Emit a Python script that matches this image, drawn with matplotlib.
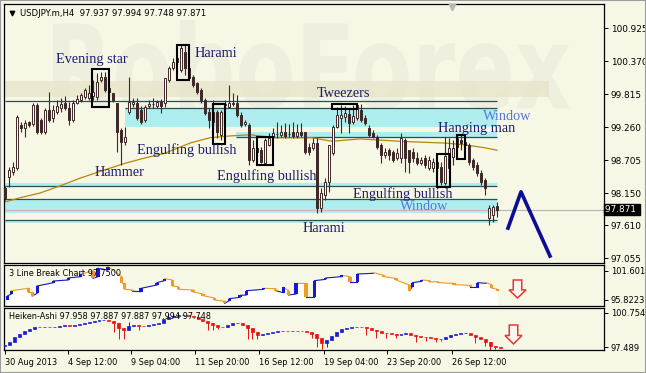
import numpy as np
import matplotlib
matplotlib.use('Agg')
import matplotlib.pyplot as plt
from matplotlib.patches import Rectangle, Polygon, PathPatch
from matplotlib.textpath import TextPath
from matplotlib.font_manager import FontProperties
from matplotlib.transforms import Affine2D

# ---- USDJPY H4 candles ----
opens = [98.23, 98.42, 98.50, 98.57, 99.29, 99.24, 99.34, 99.31, 99.63, 99.38,
         99.18, 99.55, 99.41, 99.51, 99.58, 99.66, 99.58, 99.38, 99.66, 99.71,
         99.76, 99.75, 99.78, 99.76, 100.05, 100.10, 99.92, 99.83, 99.66, 99.21,
         99.01, 99.51, 99.65, 99.66, 99.55, 99.38, 99.61, 99.64, 99.61, 99.68,
         99.66, 100.05, 100.25, 100.35, 100.22, 100.52, 100.25, 100.10, 100.00, 99.88,
         99.71, 99.51, 99.34, 99.51, 99.13, 99.63, 99.60, 99.65, 99.66, 99.46,
         99.31, 99.29, 98.71, 98.91, 98.87, 98.65, 98.96, 99.09, 99.14, 99.13,
         99.18, 99.14, 99.18, 99.11, 99.18, 99.18, 98.92, 98.91, 98.99, 97.90,
         98.12, 98.34, 98.82, 99.26, 99.41, 99.43, 99.48, 99.34, 99.41, 99.55,
         99.41, 99.24, 99.16, 99.09, 98.96, 98.79, 98.87, 98.84, 98.74, 98.74,
         99.04, 98.87, 98.84, 98.74, 98.65, 98.74, 98.57, 98.57, 98.67, 98.59,
         98.32, 98.57, 98.76, 98.92, 99.04, 99.01, 98.96, 98.71, 98.62, 98.49,
         98.37, 97.73, 97.78, 97.937]
highs = [98.27, 98.59, 98.67, 99.46, 99.34, 99.38, 99.36, 99.66, 99.66, 99.41,
         99.58, 99.85, 99.63, 99.71, 99.75, 99.78, 99.68, 99.71, 99.80, 99.83,
         99.92, 99.97, 100.05, 100.17, 100.19, 100.19, 99.97, 99.83, 99.66, 99.24,
         99.26, 100.10, 99.75, 99.75, 99.61, 99.63, 99.71, 99.75, 99.71, 99.73,
         100.08, 100.29, 100.42, 100.47, 100.64, 100.64, 100.29, 100.14, 100.02, 99.92,
         99.75, 99.58, 99.71, 99.55, 99.55, 99.71, 99.97, 99.83, 99.80, 99.51,
         99.38, 99.33, 99.04, 98.94, 98.92, 99.08, 99.16, 99.24, 99.34, 99.29,
         99.33, 99.31, 99.34, 99.31, 99.33, 99.18, 98.99, 99.08, 99.08, 98.23,
         98.40, 98.96, 99.29, 99.60, 99.63, 99.61, 99.58, 99.63, 99.65, 99.65,
         99.46, 99.29, 99.21, 99.13, 98.99, 98.91, 98.91, 98.87, 98.91, 99.16,
         99.08, 98.87, 98.91, 98.84, 98.76, 98.79, 98.77, 98.74, 98.71, 98.67,
         99.09, 99.08, 99.04, 99.13, 99.13, 99.06, 98.99, 98.74, 98.67, 98.54,
         98.40, 97.95, 97.95, 97.994]
lows = [98.03, 98.25, 98.45, 98.54, 99.18, 99.09, 99.26, 99.28, 99.14, 99.14,
        99.14, 99.34, 99.34, 99.48, 99.51, 99.55, 99.29, 99.34, 99.65, 99.68,
        99.73, 99.71, 99.71, 99.71, 100.02, 99.85, 99.80, 99.68, 98.84, 98.62,
        98.96, 99.48, 99.60, 99.38, 99.31, 99.34, 99.58, 99.58, 99.58, 99.50,
        99.60, 100.02, 100.22, 100.32, 100.19, 100.14, 100.05, 99.93, 99.81, 99.66,
        99.46, 99.24, 99.21, 99.08, 99.04, 99.55, 99.58, 99.61, 99.43, 99.26,
        99.28, 98.62, 98.67, 98.79, 98.65, 98.65, 98.94, 99.06, 99.08, 99.09,
        99.08, 99.09, 99.08, 99.08, 99.09, 98.81, 98.79, 98.87, 97.81, 97.83,
        98.03, 98.17, 98.79, 99.24, 99.16, 99.34, 99.16, 99.31, 99.38, 99.34,
        99.29, 99.09, 99.08, 98.89, 98.65, 98.74, 98.71, 98.67, 98.71, 98.65,
        98.50, 98.49, 98.67, 98.62, 98.62, 98.57, 98.54, 98.50, 98.45, 98.29,
        98.29, 98.54, 98.62, 98.89, 98.87, 98.91, 98.62, 98.54, 98.44, 98.29,
        98.12, 97.61, 97.66, 97.748]
closes = [98.07, 98.54, 98.59, 99.43, 99.24, 99.33, 99.29, 99.63, 99.18, 99.18,
          99.55, 99.38, 99.55, 99.61, 99.65, 99.58, 99.38, 99.66, 99.73, 99.80,
          99.88, 99.83, 99.85, 100.02, 100.10, 99.88, 99.85, 99.71, 99.18, 99.01,
          99.09, 99.68, 99.68, 99.41, 99.34, 99.60, 99.65, 99.65, 99.68, 99.61,
          100.08, 100.25, 100.35, 100.42, 100.59, 100.25, 100.08, 99.97, 99.85, 99.71,
          99.50, 99.38, 99.51, 99.18, 99.51, 99.65, 99.66, 99.66, 99.46, 99.29,
          99.34, 98.71, 98.91, 98.84, 98.67, 99.04, 99.08, 99.16, 99.15, 99.18,
          99.11, 99.15, 99.11, 99.18, 99.13, 98.84, 98.84, 98.99, 97.90, 98.15,
          98.34, 98.96, 99.26, 99.46, 99.46, 99.50, 99.33, 99.45, 99.63, 99.38,
          99.33, 99.13, 99.09, 98.92, 98.79, 98.84, 98.79, 98.71, 98.82, 99.08,
          98.74, 98.67, 98.74, 98.65, 98.71, 98.62, 98.71, 98.67, 98.57, 98.34,
          98.77, 98.91, 98.91, 99.08, 98.99, 98.96, 98.67, 98.59, 98.49, 98.34,
          98.23, 97.90, 97.91, 97.871]

# moving average (bar index, value)
ma_idx = [0, 3.75, 8.75, 13.75, 18.75, 25, 30, 35, 40, 46.25, 51.25, 56.25,
          61.25, 67.5, 76.75, 81.75, 88.75, 98.75, 110, 115, 120, 123]
ma_val = [98.00, 98.07, 98.15, 98.27, 98.40, 98.54, 98.65, 98.74, 98.82, 98.99,
          99.08, 99.11, 99.13, 99.08, 99.08, 99.02, 99.06, 99.02, 98.99, 98.96,
          98.91, 98.87]

# support / resistance levels: (price, from bar, to bar)
level_lines = [(99.70, 0, 123), (99.58, 30, 123), (99.09, 57.75, 123),
               (98.27, 0, 123), (98.05, 0, 123), (97.70, 0, 123)]
level_bands = [(99.26, 99.58, 30, 123), (99.09, 99.18, 57.75, 123),
               (98.27, 98.32, 0, 123), (97.81, 98.05, 0, 123), (97.64, 97.70, 0, 123)]

# candlestick pattern boxes: (bar from, bar to, low, high)
pattern_boxes = [(21.75, 26, 99.60, 100.236), (43, 46, 100.05, 100.639),
                 (52, 55, 98.974, 99.647), (63, 67, 98.621, 99.092),
                 (81.75, 88, 99.563, 99.647), (108, 111.25, 98.251, 98.806),
                 (113, 115, 98.722, 99.126)]
pattern_labels = ['Evening star', 'Harami', 'Hammer', 'Engulfing bullish',
                  'Engulfing bullish', 'Tweezers', 'Window', 'Hanging man',
                  'Engulfing bullish', 'Window', 'Harami']
label_x = [12.75, 47.5, 22.5, 33, 53, 78, 119.5, 108.25, 87, 98.75, 74.5]
label_y = [100.40, 100.50, 98.50, 98.87, 98.44, 99.83, 99.445, 99.24, 98.13, 97.93, 97.56]

forecast_x = [125.75, 129, 136.25]
forecast_y = [97.56, 98.17, 97.09]

main_ticks = [100.925, 100.370, 99.815, 99.260, 98.705, 98.150, 97.610, 97.055]
last_price = 97.871

# ---- 3 Line Break bricks ----
lb_x = [0.5, 1.3, 4.7, 5.5, 6.5, 9.8, 12.8, 15.3, 17.8, 18.8, 20.8, 23.6, 24.2,
        25.8, 27.5, 30.7, 32.2, 33.8, 35.0, 38.0, 40.0, 42.3, 44.4, 45.3, 47.5,
        48.8, 52.3, 54.7, 56.2, 57.3, 58.8, 60.8, 62.5, 64.8, 68.0, 69.7, 71.2,
        74.4, 76.5, 79.0, 81.7, 82.3, 84.2, 85.8, 87.5, 90.7, 94.0, 95.5, 97.2,
        98.3, 99.5]
lb_open = [95.82, 97.02, 98.15, 97.48, 97.15, 99.28, 99.81, 100.47, 101.67, 100.47,
           101.80, 100.47, 99.14, 97.82, 97.48, 98.81, 99.68, 99.81, 98.48, 97.82,
           97.02, 96.22, 95.56, 95.69, 96.35, 96.82, 97.95, 98.08, 97.28, 97.68,
           97.02, 99.14, 96.49, 99.94, 100.47, 100.47, 99.48, 101.14, 100.74, 100.14,
           98.81, 98.48, 99.54, 99.68, 99.48, 99.14, 98.75, 98.48, 99.14, 98.88, 97.95]
lb_close = [96.62, 97.68, 97.48, 96.62, 98.61, 99.61, 100.21, 100.94, 100.14, 102.13,
            102.47, 99.14, 97.95, 97.55, 98.15, 99.28, 100.07, 98.61, 97.95, 97.42,
            96.69, 95.82, 95.16, 96.09, 96.75, 97.68, 98.15, 97.68, 98.35, 96.82,
            99.14, 96.49, 99.68, 100.21, 100.74, 99.48, 101.00, 101.27, 100.47, 99.81,
            97.68, 99.28, 99.81, 99.41, 99.28, 98.88, 98.48, 99.28, 99.28, 98.21, 97.55]
lb_ticks = [101.6017, 95.8223]

# ---- Heiken-Ashi closes ----
ha_close = [97.68, 98.00, 98.42, 98.74, 99.06, 99.25, 99.44, 99.38, 99.44, 99.38,
            99.44, 99.47, 99.57, 99.51, 99.57, 99.70, 99.76, 99.89, 100.02, 100.08,
            100.10, 99.95, 99.76, 99.28, 99.12, 99.51, 99.60, 99.51, 99.48, 99.60,
            99.70, 99.83, 100.15, 100.40, 100.47, 100.53, 100.56, 100.47, 100.34, 100.18,
            100.02, 99.83, 99.60, 99.44, 99.38, 99.57, 99.76, 99.83, 99.60, 99.28,
            98.96, 98.64, 98.74, 98.87, 98.96, 99.03, 99.06, 99.03, 99.06, 99.03,
            99.00, 98.93, 98.74, 98.32, 97.84, 98.16, 98.55, 98.96, 99.25, 99.35,
            99.38, 99.44, 99.42, 99.28, 99.12, 99.00, 98.87, 98.80, 98.70, 98.64,
            98.74, 98.80, 98.64, 98.55, 98.48, 98.42, 98.35, 98.29, 98.23, 98.42,
            98.61, 98.70, 98.80, 98.82, 98.67, 98.48, 98.23, 97.97, 97.59, 97.46,
            97.43]
ha_wick_k = [22, 23, 24, 25, 27, 33, 34, 35, 41, 42, 43, 49, 50, 51, 62, 63, 64, 65,
             66, 73, 75, 77, 79, 83, 85, 87, 88, 95, 97, 98, 99, 100]
ha_wick_v = [98.96, 98.23, 98.23, 99.92, 99.12, 100.79, 100.79, 100.72, 99.12, 99.12,
             99.20, 98.23, 98.30, 98.23, 98.32, 97.52, 97.26, 97.46, 98.20, 98.60,
             98.32, 98.40, 98.32, 98.00, 98.10, 98.00, 98.05, 97.90, 97.55, 97.20,
             97.30, 97.35]
ha_ticks = [100.754, 97.489]

date_pos = [0, 12.75, 25.4, 38.4, 51.3, 64.4, 77.1, 90.25]
date_labels = ['30 Aug 2013', '4 Sep 12:00', '9 Sep 04:00', '11 Sep 20:00',
               '16 Sep 12:00', '19 Sep 04:00', '23 Sep 20:00', '26 Sep 12:00']

# ---- style ----
BG = '#f7f7e6'
CANDLE = '#3e2828'
CYAN = '#afeeee'
LEVEL = '#2f4f4f'
NAVY = '#1c1c70'
LIGHTBLUE = '#5577dd'
W, H = 646, 373

fig = plt.figure(figsize=(W / 100, H / 100), dpi=100, facecolor=BG)


def px_box(x0, y0, x1, y1):
    return [x0 / W, 1 - y1 / H, (x1 - x0) / W, (y1 - y0) / H]


ax = fig.add_axes(px_box(4, 4, 604, 263))
ax2 = fig.add_axes(px_box(4, 265, 604, 306))
ax3 = fig.add_axes(px_box(4, 308, 604, 350))

for a in (ax, ax2, ax3):
    a.set_facecolor(BG)
    for s in a.spines.values():
        s.set_color('black')
        s.set_linewidth(0.9)
    a.yaxis.tick_right()
    a.tick_params(axis='y', direction='out', length=3, width=0.7,
                  labelsize=6.4, pad=2, colors='black')
for a in (ax2, ax3):
    a.tick_params(axis='y', labelsize=6.0)

# ---- main panel ----
ax.set_xlim(-0.25, 149.75)
ax.set_ylim(96.973, 101.329)
ax.set_xticks([])
ax.set_yticks(main_ticks)
ax.set_yticklabels(['%.3f' % t for t in main_ticks])

# watermark
tp = TextPath((0, 0), 'RoboForex', size=100,
              prop=FontProperties(family='DejaVu Sans', weight='bold'))
ext = tp.get_extents()
tr = Affine2D().translate(-ext.x0, -ext.y0).scale(517 / ext.width, 90 / ext.height).translate(53, H - 110)
ax.add_patch(PathPatch(tp, transform=tr, facecolor='#efefdf', edgecolor='none', zorder=0.2))
ax.add_patch(Rectangle((0, 99.765), 136, 0.27, facecolor='#e7e5c9', edgecolor='none',
                       alpha=0.8, zorder=0.3))

for lo, hi, x0, x1 in level_bands:
    ax.add_patch(Rectangle((x0, lo), x1 - x0, hi - lo, facecolor=CYAN,
                           edgecolor='none', zorder=1))
for y, x0, x1 in level_lines:
    ax.hlines(y, x0, x1, color=LEVEL, lw=0.9, zorder=1.5)

ax.hlines(last_price, 0, 123, color='#d8aeb8', lw=0.8, zorder=1.6)
ax.hlines(last_price, 123, 149.75, color='#b4b4b4', lw=0.8, zorder=1.6)

ax.plot(ma_idx, ma_val, color='#b8860b', lw=0.9, zorder=2)

idx = np.arange(len(closes))
o, hh, ll, c = (np.array(v) for v in (opens, highs, lows, closes))
up = c >= o
ax.vlines(idx, ll, hh, color=CANDLE, lw=0.8, zorder=3)
ax.bar(idx[up], (c - o)[up], bottom=o[up], width=0.7, color='white',
       edgecolor=CANDLE, linewidth=0.7, zorder=4)
ax.bar(idx[~up], (o - c)[~up], bottom=c[~up], width=0.7, color=CANDLE,
       edgecolor=CANDLE, linewidth=0.7, zorder=4)

for x0, x1, lo, hi in pattern_boxes:
    ax.add_patch(Rectangle((x0, lo), x1 - x0, hi - lo, fill=False,
                           edgecolor='black', linewidth=1.5, zorder=5))

for t, x, y in zip(pattern_labels, label_x, label_y):
    ax.text(x, y, t, family='Liberation Serif', fontsize=10.3, va='center', ha='left',
            color=LIGHTBLUE if t == 'Window' else NAVY, zorder=6)

ax.plot(forecast_x, forecast_y, color='#0c0c96', lw=2.6, zorder=6)

ax.text(0.027, 0.965, 'USDJPY.m,H4  97.937 97.994 97.748 97.871', transform=ax.transAxes,
        fontsize=6.1, va='center', ha='left', color='black')
ax.scatter([0.0135], [0.965], marker='v', s=10, color='black', transform=ax.transAxes)
ax.scatter([111.75], [0.99], marker='v', s=22, color='#b8b8b8',
           transform=ax.get_xaxis_transform(), clip_on=False, zorder=6)

ax.text(1.002, last_price, '97.871 ', transform=ax.get_yaxis_transform(), fontsize=6.4,
        color='white', va='center', ha='left',
        bbox=dict(boxstyle='square,pad=0.15', facecolor='black', edgecolor='black'))

# ---- 3 line break panel ----
ax2.set_xlim(-0.19, 121.0)
ax2.set_ylim(94.626, 102.797)
ax2.set_xticks([])
ax2.set_yticks(lb_ticks)
ax2.set_yticklabels(['%.4f' % t for t in lb_ticks])

lbo, lbc = np.array(lb_open), np.array(lb_close)
path_x = np.repeat(lb_x, 2)
path_y = np.column_stack([lbo, lbc]).ravel()
ax2.fill_between(path_x, path_y, 94.626, color='white', lw=0, zorder=1)
lb_col = ['#1818cc' if b >= a else '#f09a28' for a, b in zip(lbo, lbc)]
for j in range(1, len(lb_x)):
    ax2.plot([lb_x[j - 1], lb_x[j]], [lbc[j - 1], lbo[j]], color=lb_col[j], lw=0.8, zorder=2)
ax2.bar(lb_x, lbc - lbo, bottom=lbo, width=0.65, color=lb_col, zorder=3)
ax2.text(0.008, 0.79, '3 Line Break Chart 97.7500', transform=ax2.transAxes,
         fontsize=5.9, va='center', ha='left', zorder=5)


def down_arrow(a, x0, x1, y0, y1):
    # outlined arrow in pixel box, placed via axes fraction
    bb = a.get_position()
    fx = lambda p: (p / W - bb.x0) / bb.width
    fy = lambda p: (1 - p / H - bb.y0) / bb.height
    w = x1 - x0
    mid = (x0 + x1) / 2
    sh = w * 0.25
    yh = y0 + (y1 - y0) * 0.55
    pts = [(mid - sh, y0), (mid + sh, y0), (mid + sh, yh), (x1, yh), (mid, y1),
           (x0, yh), (mid - sh, yh)]
    a.add_patch(Polygon([(fx(x), fy(y)) for x, y in pts], closed=True,
                        transform=a.transAxes, facecolor='#fbf5ee', edgecolor='#e03a3a',
                        lw=1.1, zorder=6))


down_arrow(ax2, 509, 526, 280, 298)

# ---- Heiken-Ashi panel ----
ax3.set_xlim(-0.19, 121.0)
ax3.set_ylim(97.201, 101.234)
ax3.set_yticks(ha_ticks)
ax3.set_yticklabels(['%.3f' % t for t in ha_ticks])

hc = np.array(ha_close)
hp = np.r_[hc[0] - 0.1, hc[:-1]]
hk = np.arange(len(hc))
ha_col = np.where(hc >= hp, '#1a1ad0', '#e81010')
for k, v in zip(ha_wick_k, ha_wick_v):
    ax3.vlines(k, min(hc[k], hp[k], v), max(hc[k], hp[k], v), color=ha_col[k], lw=0.7, zorder=2)
ax3.bar(hk, hc - hp, bottom=hp, width=0.6, color=ha_col, edgecolor=ha_col,
        linewidth=0.5, zorder=3)
ax3.text(0.008, 0.786, 'Heiken-Ashi 97.958 97.887 97.887 97.994 97.748', transform=ax3.transAxes,
         fontsize=5.9, va='center', ha='left', zorder=5)
down_arrow(ax3, 505, 522, 325, 344)

ax3.set_xticks(date_pos)
ax3.set_xticklabels(date_labels, ha='left', fontsize=5.9)
ax3.tick_params(axis='x', direction='out', length=3, width=0.7, pad=3)

fig.patches.append(Rectangle((0, 0), 1, 1, transform=fig.transFigure, fill=False,
                             edgecolor='#9c9c9c', linewidth=1.5))

fig.savefig('out.png', dpi=100, facecolor=BG)
